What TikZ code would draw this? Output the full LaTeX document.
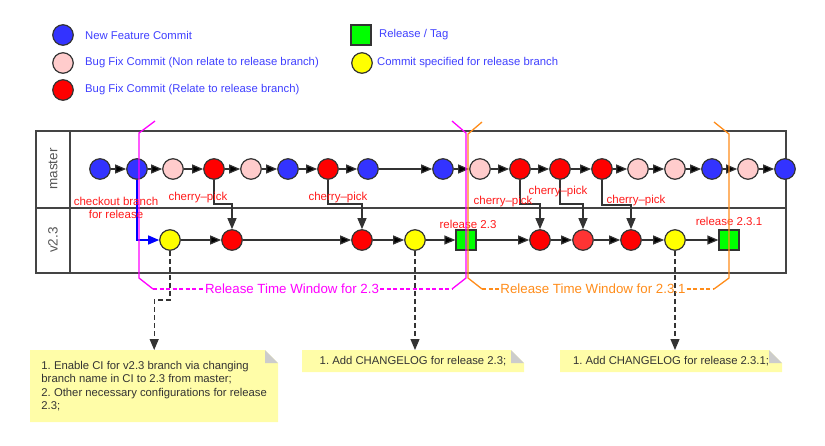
\documentclass[tikz,border=0pt]{standalone}
\usepackage{fontspec}
\setmainfont{Liberation Sans}
\usepackage{tikz}
\usetikzlibrary{positioning, arrows.meta}
\frenchspacing

\definecolor{featureblue}{HTML}{3333FF}
\definecolor{fixpink}{HTML}{FFCCCC}
\definecolor{fixred}{HTML}{FF0000}
\definecolor{relyellow}{HTML}{FFFF00}
\definecolor{taggreen}{HTML}{00FF00}
\definecolor{edgegray}{HTML}{333333}
\definecolor{framegray}{HTML}{444444}
\definecolor{legendblue}{HTML}{3F3FFF}
\definecolor{pickred}{HTML}{FF1A1A}
\definecolor{checkblue}{HTML}{0000FF}
\definecolor{winmagenta}{HTML}{FF00FF}
\definecolor{winorange}{HTML}{FF8C1A}
\definecolor{notefill}{HTML}{FFFDA8}
\definecolor{foldgray}{HTML}{CCCCCC}
\definecolor{rowgray}{HTML}{555555}

\begin{document}
\begin{tikzpicture}
	[x=1pt, y=-1pt, on grid, >={Triangle[length=11pt,width=9pt]},
	 commit/.style={circle, draw=edgegray, line width=1.2pt, minimum size=20.5pt, inner sep=0pt},
	 feat/.style={commit, fill=featureblue},
	 fixo/.style={commit, fill=fixpink},
	 fixr/.style={commit, fill=fixred},
	 spec/.style={commit, fill=relyellow},
	 tag/.style={rectangle, draw=edgegray, line width=1.2pt, fill=taggreen, minimum size=20pt, inner sep=0pt},
	 flow/.style={->, draw=edgegray, line width=1.2pt},
	 keytext/.style={anchor=west, text=legendblue, inner sep=0pt, font=\fontsize{11.3}{13}\selectfont},
	 pick/.style={text=pickred, align=center, inner sep=0pt, font=\fontsize{11.5}{13}\selectfont},
	 rowlabel/.style={text=rowgray, rotate=90, font=\fontsize{13.5}{14}\selectfont},
	 frame/.style={draw=framegray, line width=1.5pt},
	 magwin/.style={draw=winmagenta, line width=1.3pt},
	 orawin/.style={draw=winorange, line width=1.3pt},
	 windash/.style={dash pattern=on 4pt off 2.5pt},
	 wintext/.style={inner sep=1pt, font=\fontsize{13.3}{14}\selectfont},
	 notelink/.style={->, draw=edgegray, line width=1.2pt, dash pattern=on 5pt off 3pt},
	 note/.style={rectangle, inner xsep=8pt, align=left, text=edgegray,
	   font=\fontsize{11.3}{13.3}\selectfont,
	   path picture={
	     \fill[notefill] (path picture bounding box.south west)
	       -- (path picture bounding box.north west)
	       -- ([xshift=-13pt]path picture bounding box.north east)
	       -- ([yshift=-13pt]path picture bounding box.north east)
	       -- (path picture bounding box.south east) -- cycle;
	     \fill[foldgray] ([xshift=-13pt]path picture bounding box.north east)
	       -- ([xshift=-13pt,yshift=-13pt]path picture bounding box.north east)
	       -- ([yshift=-13pt]path picture bounding box.north east) -- cycle;}}]
   \useasboundingbox (0,0) rectangle (825,445);

   \node[feat] (k_1) at (63,35) {};
   \node[fixo] (k_2) at (63,63) {};
   \node[fixr] (k_3) at (63,90) {};
   \node[tag]  (k_4) at (361,35) {};
   \node[spec] (k_5) at (362,63) {};
   \node[keytext] (t_1) at (85,35) {New Feature Commit};
   \node[keytext] (t_2) at (85,63) {Bug Fix Commit (Non relate to release branch)};
   \node[keytext] (t_3) at (85,90) {Bug Fix Commit (Relate to release branch)};
   \node[keytext] (t_4) at (379,35) {Release / Tag};
   \node[keytext] (t_5) at (377,63) {Commit specified for release branch};

   \draw[frame] (36,131) rectangle (786,273);
   \draw[frame] (70,131) -- (70,273);
   \draw[frame] (36,208) -- (786,208);
   \node[rowlabel] (l_1) at (53,169) {master};
   \node[rowlabel] (l_2) at (53,240) {v2.3};

   \node[feat] (m_1) at (100,169) {};
   \node[feat] (m_2) [right=37pt of m_1] {};
   \node[fixo] (m_3) [right=36pt of m_2] {};
   \node[fixr] (m_4) [right=41pt of m_3] {};
   \node[fixo] (m_5) [right=37pt of m_4] {};
   \node[feat] (m_6) [right=37pt of m_5] {};
   \node[fixr] (m_7) [right=40pt of m_6] {};
   \node[feat] (m_8) [right=40pt of m_7] {};
   \node[feat] (m_9) [right=75pt of m_8] {};
   \node[fixo] (m_10) [right=37pt of m_9] {};
   \node[fixr] (m_11) [right=40pt of m_10] {};
   \node[fixr] (m_12) [right=40pt of m_11] {};
   \node[fixr] (m_13) [right=42pt of m_12] {};
   \node[fixo] (m_14) [right=36pt of m_13] {};
   \node[fixo] (m_15) [right=37pt of m_14] {};
   \node[feat] (m_16) [right=37pt of m_15] {};
   \node[fixo] (m_17) [right=36pt of m_16] {};
   \node[feat] (m_18) [right=37pt of m_17] {};

   \node[spec] (r_1) at (170,240) {};
   \node[fixr] (r_2) [right=62pt of r_1] {};
   \node[fixr] (r_3) [right=130pt of r_2] {};
   \node[spec] (r_4) [right=53pt of r_3] {};
   \node[tag]  (r_5) [right=51pt of r_4] {};
   \node[fixr] (r_6) [right=74pt of r_5] {};
   \node[fixr, fill=fixred!80!white] (r_7) [right=43pt of r_6] {};
   \node[fixr] (r_8) [right=48pt of r_7] {};
   \node[spec] (r_9) [right=44pt of r_8] {};
   \node[tag]  (r_10) [right=54pt of r_9] {};

   \path[flow]
    (m_1) edge (m_2)
    (m_2) edge (m_3)
    (m_3) edge (m_4)
    (m_4) edge (m_5)
    (m_5) edge (m_6)
    (m_6) edge (m_7)
    (m_7) edge (m_8)
    (m_8) edge (m_9)
    (m_9) edge (m_10)
    (m_10) edge (m_11)
    (m_11) edge (m_12)
    (m_12) edge (m_13)
    (m_13) edge (m_14)
    (m_14) edge (m_15)
    (m_15) edge (m_16)
    (m_16) edge (m_17)
    (m_17) edge (m_18);
   \path[flow]
    (r_1) edge (r_2)
    (r_2) edge (r_3)
    (r_3) edge (r_4)
    (r_4) edge (r_5)
    (r_5) edge (r_6)
    (r_6) edge (r_7)
    (r_7) edge (r_8)
    (r_8) edge (r_9)
    (r_9) edge (r_10);

   \draw[flow] (m_4) -- ++(0,35) -| (r_2);
   \draw[flow] (m_7) -- ++(0,35) -| (r_3);
   \draw[flow] (m_11) -- ++(0,35) -| (r_6);
   \draw[flow] (m_12) -- ++(0,35) -| (r_7);
   \draw[flow] (m_13) -- ++(0,36) -| (r_8);
   \draw[flow, draw=checkblue, line width=1.4pt] (m_2) |- (r_1);

   \node[pick] (p_1) at (198,198) {cherry--pick};
   \node[pick] (p_2) at (338,198) {cherry--pick};
   \node[pick] (p_3) at (503,202) {cherry--pick};
   \node[pick] (p_4) at (558,192) {cherry--pick};
   \node[pick] (p_5) at (636,201) {cherry--pick};
   \node[pick] (c_1) at (116,208) {checkout branch\\for release};
   \node[pick] (v_1) at (468,224) {release 2.3};
   \node[pick] (v_2) at (729,221) {release 2.3.1};

   \node[note, anchor=north west, minimum width=248pt, minimum height=72pt] (n_1) at (30,350)
     {1. Enable CI for v2.3 branch via changing\\branch name in CI to 2.3 from master;\\2. Other necessary configurations for release\\2.3;};
   \node[note, anchor=north, minimum width=222pt, minimum height=22pt] (n_2) at (413,350)
     {1. Add CHANGELOG for release 2.3;};
   \node[note, anchor=north, minimum width=222pt, minimum height=22pt] (n_3) at (671,350)
     {1. Add CHANGELOG for release 2.3.1;};

   \draw[notelink] (r_1) -- ++(0,60) -| (n_1);
   \draw[notelink] (r_4) -- (r_4 |- n_2.north);
   \draw[notelink] (r_9) -- (r_9 |- n_3.north);

   \node[wintext, text=winmagenta] (w_1) at (292,289) {Release Time Window for 2.3};
   \node[wintext, text=winorange] (w_2) at (593,289) {Release Time Window for 2.3.1};
   \draw[magwin] (155,121) -- (139,133) -- (139,278) -- (153,289);
   \draw[magwin] (452,121) -- (466,133) -- (466,278) -- (452,289);
   \draw[magwin, windash] (153,289) -- (w_1) (w_1) -- (452,289);
   \draw[orawin] (482,122) -- (468,134) -- (468,278) -- (482,289);
   \draw[orawin] (714,122) -- (729,134) -- (729,278) -- (714,289);
   \draw[orawin, windash] (482,289) -- (w_2) (w_2) -- (714,289);
\end{tikzpicture}
\end{document}
